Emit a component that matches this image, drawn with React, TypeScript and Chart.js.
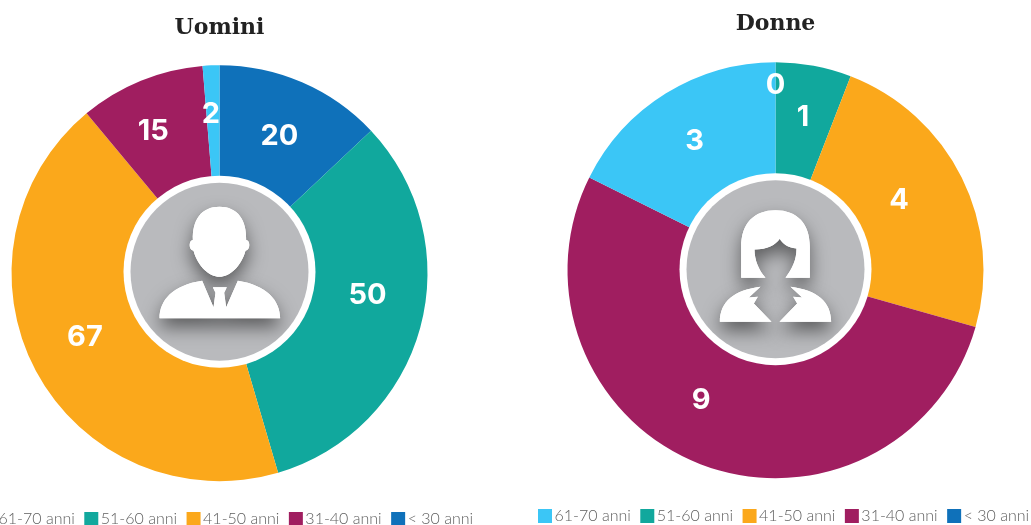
import React, { useEffect, useRef } from "react";
import { Chart, registerables } from "chart.js";

Chart.register(...registerables);

const legendOrder = ["61-70 anni", "51-60 anni", "41-50 anni", "31-40 anni", "< 30 anni"];
const categories = ["< 30 anni", "51-60 anni", "41-50 anni", "31-40 anni", "61-70 anni"];
const colors = ["#0f71ba", "#11a89d", "#fba81b", "#a01e60", "#3bc6f6"];
const uominiValues = [20, 50, 67, 15, 2];
const donneValues = [0, 1, 4, 9, 3];
const uominiLabelRadius = [151, 149.5, 148.5, 157.7, 161];
const uominiLabelTurn = [0, -7.1, 3, -2.6, -0.7];
const donneLabelRadius = [186, 156.4, 143, 149, 153.8];
const donneLabelTurn = [0, -0.5, -3.7, 8.8, 0];

const TITLE_FONT = "'DejaVu Serif'";
const LABEL_FONT = "Inter";
const LEGEND_FONT = "Lato";

type P = [string, ...number[]];
const manHead: P[] = [["M", 330, 140], ["C", 385, 140, 412, 180, 410, 240], ["C", 422, 240, 424, 270, 408, 272], ["C", 395, 320, 360, 350, 330, 350], ["C", 300, 350, 265, 320, 252, 272], ["C", 236, 270, 238, 240, 250, 240], ["C", 248, 180, 275, 140, 330, 140]];
const manBody: P[] = [["M", 150, 475], ["C", 150, 420, 190, 375, 278, 362], ["L", 312, 442], ["L", 318, 398], ["L", 310, 382], ["L", 352, 382], ["L", 344, 398], ["L", 350, 442], ["L", 385, 362], ["C", 470, 375, 512, 420, 512, 475]];
const womanHair: P[] = [["M", 315, 150], ["C", 380, 150, 418, 190, 418, 260], ["L", 418, 353], ["L", 345, 353], ["C", 365, 325, 378, 300, 378, 265], ["C", 350, 262, 335, 250, 328, 236], ["C", 315, 255, 290, 268, 252, 268], ["C", 252, 300, 265, 330, 285, 353], ["L", 212, 353], ["L", 212, 260], ["C", 212, 190, 250, 150, 315, 150]];
const womanBodyL: P[] = [["M", 148, 485], ["C", 148, 425, 190, 390, 270, 380], ["L", 235, 412], ["L", 262, 410], ["L", 250, 430], ["L", 303, 485]];
const womanBodyR: P[] = [["M", 482, 485], ["C", 482, 425, 440, 390, 360, 380], ["L", 395, 412], ["L", 368, 410], ["L", 380, 430], ["L", 327, 485]];

function trace(ctx: CanvasRenderingContext2D, path: P[], ox: number, oy: number, cx: number, cy: number) {
  const X = (v: number) => cx + (v - ox) / 3;
  const Y = (v: number) => cy + (v - oy) / 3;
  ctx.beginPath();
  for (const s of path) {
    if (s[0] === "M") ctx.moveTo(X(s[1]), Y(s[2]));
    else if (s[0] === "L") ctx.lineTo(X(s[1]), Y(s[2]));
    else ctx.bezierCurveTo(X(s[1]), Y(s[2]), X(s[3]), Y(s[4]), X(s[5]), Y(s[6]));
  }
  ctx.closePath();
}

function iconPlugin(shapes: P[][], ox: number, oy: number, lift: number) {
  return {
    id: "icon",
    afterDatasetsDraw(chart: any) {
      const arc = chart.getDatasetMeta(0).data[0];
      const cx = arc.x;
      const cy = arc.y - lift;
      const ctx: CanvasRenderingContext2D = chart.ctx;
      ctx.save();
      ctx.beginPath();
      ctx.arc(cx, cy, 96, 0, Math.PI * 2);
      ctx.fillStyle = "#fff";
      ctx.fill();
      ctx.beginPath();
      ctx.arc(cx, cy, 89, 0, Math.PI * 2);
      ctx.fillStyle = "#b9babd";
      ctx.fill();
      ctx.clip();
      ctx.fillStyle = "#fff";
      ctx.shadowColor = "rgba(0,0,0,0.5)";
      ctx.shadowBlur = 18;
      ctx.shadowOffsetY = 9;
      for (const s of shapes) {
        trace(ctx, s, ox, oy, cx, cy);
        ctx.fill();
      }
      ctx.shadowColor = "transparent";
      for (const s of shapes) {
        trace(ctx, s, ox, oy, cx, cy);
        ctx.fill();
      }
      ctx.restore();
    },
  };
}

function valuePlugin(radii: number[], turns: number[]) {
  return {
    id: "values",
    afterDraw(chart: any) {
      const ctx: CanvasRenderingContext2D = chart.ctx;
      const values: number[] = chart.data.datasets[0].data;
      ctx.save();
      ctx.fillStyle = "#fff";
      ctx.font = `700 29px ${LABEL_FONT}`;
      ctx.textAlign = "center";
      ctx.textBaseline = "middle";
      chart.getDatasetMeta(0).data.forEach((a: any, i: number) => {
        const mid = (a.startAngle + a.endAngle) / 2 + (turns[i] * Math.PI) / 180;
        ctx.fillText(String(values[i]), a.x + Math.cos(mid) * radii[i], a.y + 1.5 + Math.sin(mid) * radii[i]);
      });
      ctx.restore();
    },
  };
}

const legendPlacement = {
  id: "legendPlacement",
  afterLayout(chart: any) {
    chart.legend.left = 32.5;
  },
};

function makeChart(canvas: HTMLCanvasElement, title: string, values: number[], plugins: any[], layoutPad: any, titlePad: any) {
  return new Chart(canvas, {
    type: "doughnut",
    data: {
      labels: categories,
      datasets: [{ data: values, backgroundColor: colors, borderWidth: 0, radius: 208, cutout: 90 } as any],
    },
    plugins: [...plugins, legendPlacement],
    options: {
      responsive: false,
      animation: false,
      layout: { padding: layoutPad },
      plugins: {
        tooltip: { enabled: false },
        title: {
          display: true,
          text: title,
          color: "#222222",
          font: { family: TITLE_FONT, size: 22, weight: "bold" },
          padding: titlePad,
        },
        legend: {
          position: "bottom",
          align: "start",
          labels: {
            padding: 15,
            boxWidth: 3,
            boxHeight: 3,
            color: "#606060",
            font: { family: LEGEND_FONT, size: 16, weight: "300" },
            generateLabels: () =>
              legendOrder.map((text) => {
                const c = colors[categories.indexOf(text)];
                return { text, fillStyle: c, strokeStyle: c, lineWidth: 11, lineJoin: "miter", hidden: false, index: categories.indexOf(text), fontColor: "#606060" };
              }),
          },
        },
      },
    } as any,
  });
}

export default function App() {
  const a = useRef<HTMLCanvasElement>(null);
  const b = useRef<HTMLCanvasElement>(null);
  useEffect(() => {
    document.body.style.margin = "0";
    const c1 = makeChart(a.current!, "Uomini", uominiValues, [iconPlugin([manHead, manBody], 330, 335, 1.5), valuePlugin(uominiLabelRadius, uominiLabelTurn)], { top: 15, bottom: 0 }, { top: 0, bottom: 9 });
    const c2 = makeChart(b.current!, "Donne", donneValues, [iconPlugin([womanHair, womanBodyL, womanBodyR], 315, 327, 1), valuePlugin(donneLabelRadius, donneLabelTurn)], { top: 11, bottom: 0 }, { top: 0, bottom: 10 });
    return () => {
      c1.destroy();
      c2.destroy();
    };
  }, []);
  return (
    <div style={{ position: "fixed", left: 0, top: 0, width: 1031, height: 525, overflow: "hidden", background: "#fff" }}>
      <canvas ref={a} width={559} height={537} style={{ position: "absolute", left: -60, top: 0 }} />
      <canvas ref={b} width={559} height={534} style={{ position: "absolute", left: 496, top: 0 }} />
    </div>
  );
}
